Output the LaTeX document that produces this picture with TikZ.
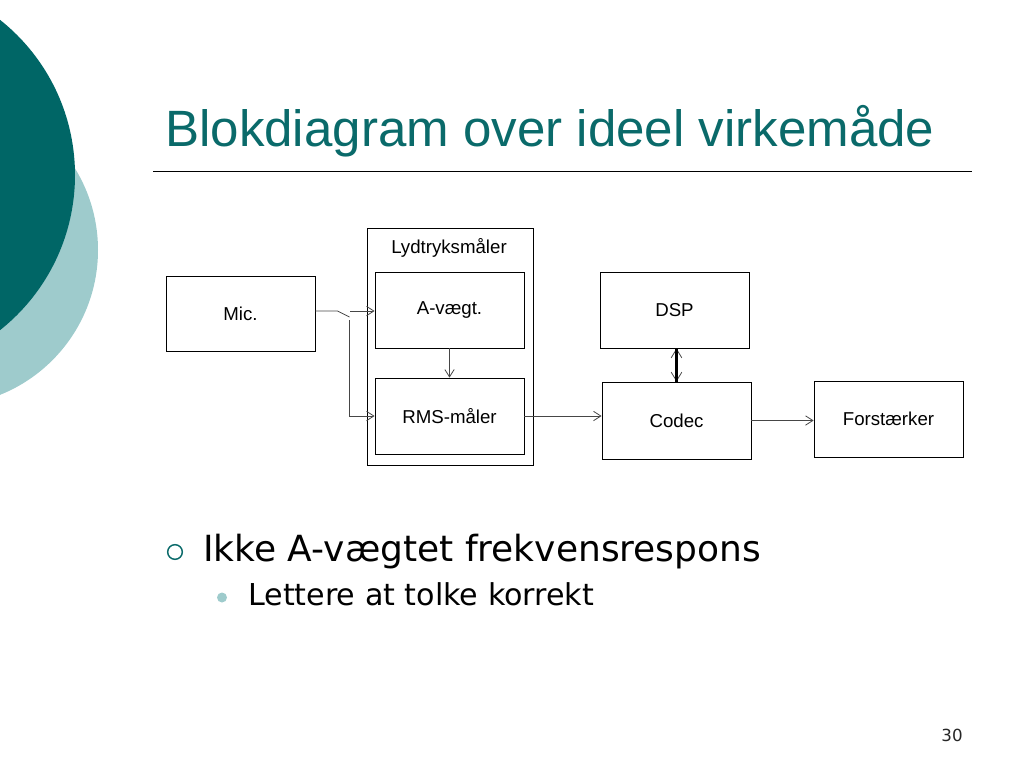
\documentclass[tikz,border=0pt]{standalone}
\usepackage{fontspec}
\setmainfont{Liberation Sans}
\newfontfamily\verd{DejaVu Sans}
\usetikzlibrary{arrows.meta}
\definecolor{darkteal}{RGB}{0,102,102}
\definecolor{lightteal}{RGB}{158,203,204}
\definecolor{titleteal}{RGB}{10,106,106}
\definecolor{wire}{RGB}{70,70,70}
\begin{document}
\begin{tikzpicture}[x=0.75pt,y=-0.75pt,
  blk/.style={draw=black, line width=0.6pt, minimum width=111.75pt, minimum height=57pt, inner sep=0pt, font=\fontsize{14}{16}\selectfont},
  wirel/.style={draw=wire, line width=0.6pt},
  tip/.style={-{Straight Barb[length=5.5pt,width=7pt,line width=0.6pt]}},
  txt/.style={inner sep=0pt, anchor=base west}]
\useasboundingbox (0,0) rectangle (1024,768);
\clip (0,0) rectangle (1024,768);
% decorative circles
\fill[lightteal] (-58,250) circle[radius=117pt];
\fill[darkteal] (-123,175) circle[radius=148.5pt];
% title
\node[txt, text=titleteal, font=\fontsize{38.3}{40}\selectfont] (title) at (165,146) {Blokdiagram over ideel virkemåde};
\coordinate (rl) at (153,171);
\coordinate (rr) at (972,171);
\draw[line width=0.75pt] (rl) -- (rr);
% blocks
\node[blk, minimum width=124.5pt, minimum height=177.75pt] (outer) at (450,346.5) {};
\node[inner sep=0pt, font=\fontsize{14}{16}\selectfont] (lyd) at (449,248) {Lydtryksmåler};
\node[blk, minimum height=56.25pt] (mic) at (240.5,313.5) {Mic.};
\node[blk] (av) at (449.5,310) {A-vægt.};
\node[blk] (rms) at (449.5,416) {RMS-måler};
\node[blk] (dsp) at (674.5,310) {DSP};
\node[blk, minimum height=57.75pt] (codec) at (676.5,420.5) {Codec};
\node[blk] (forst) at (888.5,419) {Forstærker};
% switch and wires
\coordinate (swA) at (337.5,311);
\coordinate (swB) at (349.5,317);
\coordinate (swC) at (350,311);
\coordinate (swD) at (349.5,320);
\draw[wirel] (mic.east |- swA) -- (swA) -- (swB);
\draw[wirel, tip] (swC) -- (av.west |- swC);
\draw[wirel, tip] (swD) |- (rms.west);
\draw[wirel, tip] (av.south) -- (rms.north);
\draw[wirel, tip] (rms.east) -- (rms.east -| codec.west);
\draw[wirel, tip] (codec.east) -- (codec.east -| forst.west);
\draw[wirel, {Straight Barb[length=6.5pt,width=8pt,line width=0.6pt]}-{Straight Barb[length=6.5pt,width=8pt,line width=0.6pt]}] (codec.north |- dsp.south) -- (codec.north);
\draw[line width=2.4pt] (codec.north |- dsp.south) -- (codec.north);
% bullets
\node[circle, draw=titleteal, line width=1.1pt, minimum size=11pt, inner sep=0pt] (b1) at (175,552) {};
\node[txt, font=\verd\fontsize{27}{30}\selectfont] (t1) at (203,561) {Ikke A-vægtet frekvensrespons};
\node[circle, fill=lightteal, minimum size=7.5pt, inner sep=0pt] (b2) at (222,597.5) {};
\node[txt, font=\verd\fontsize{22.6}{25}\selectfont] (t2) at (248,605) {Lettere at tolke korrekt};
\node[font=\verd\fontsize{12.5}{14}\selectfont, text=black!85] (pg) at (952,735) {30};
\end{tikzpicture}
\end{document}
